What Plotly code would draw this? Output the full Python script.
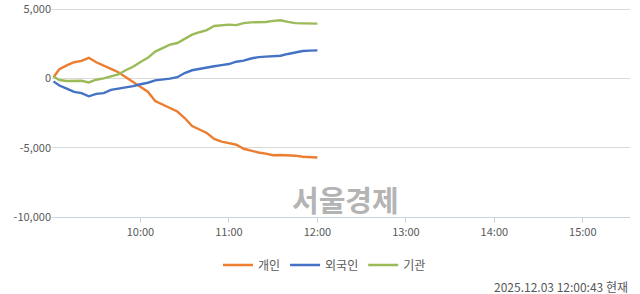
import plotly.graph_objects as go

# minutes after 09:00
minutes = [1, 5, 10, 15, 20, 25, 30, 35, 40, 45, 50, 55, 60, 65, 70, 75, 80, 85, 90,
           95, 100, 105, 110, 115, 120, 125, 130, 135, 140, 145, 150, 155, 160, 165,
           170, 175, 180]

individual = [100, 680, 950, 1180, 1280, 1500, 1180, 960, 700, 460, 100, -230, -600,
              -950, -1620, -1880, -2100, -2380, -2850, -3430, -3680, -3930, -4360,
              -4560, -4660, -4780, -5070, -5230, -5340, -5420, -5540, -5520, -5530,
              -5570, -5650, -5690, -5700]

foreign = [-200, -500, -720, -960, -1050, -1280, -1100, -1050, -820, -740, -640, -540,
           -410, -300, -130, -80, 0, 100, 400, 600, 710, 780, 890, 970, 1050, 1220,
           1300, 1450, 1550, 1590, 1630, 1650, 1780, 1900, 1990, 2020, 2040]

institution = [150, -100, -170, -160, -160, -280, -80, 20, 170, 310, 600, 850, 1200,
               1500, 1950, 2180, 2450, 2570, 2850, 3170, 3350, 3500, 3800, 3870, 3900,
               3860, 4010, 4060, 4070, 4090, 4170, 4210, 4100, 4010, 3990, 3990, 3970]

series_names = ["개인", "외국인", "기관"]
series_colors = ["#ED7D31", "#4472C4", "#9BBB59"]

y_tickvals = [5000, 0, -5000, -10000]
y_ticktext = ["5,000", "0", "-5,000", "-10,000"]

x_ticks = ["10:00", "11:00", "12:00", "13:00", "14:00", "15:00"]


def to_time(m):
    h = 9 + m // 60
    mm = m % 60
    return f"2025-12-03 {h:02d}:{mm:02d}:00"


times = [to_time(m) for m in minutes]

fig = go.Figure()
for name, vals, col in zip(series_names, [individual, foreign, institution], series_colors):
    fig.add_trace(go.Scatter(x=times, y=vals, name=name, mode="lines",
                             line=dict(color=col, width=2.4)))

font_family = "Noto Sans CJK KR, Malgun Gothic, sans-serif"

fig.update_layout(
    width=640, height=294,
    margin=dict(l=52, r=10, t=8, b=77, autoexpand=False),
    paper_bgcolor="white", plot_bgcolor="white",
    font=dict(family=font_family, size=11, color="#595959"),
    showlegend=True,
    legend=dict(orientation="h", xref="container", yref="container",
                x=0.507, xanchor="center", y=0.0985, yanchor="middle",
                font=dict(size=12, color="#595959"), itemwidth=30,
                traceorder="normal"),
)

fig.update_xaxes(
    type="date", automargin=False,
    range=["2025-12-03 09:00:00", "2025-12-03 15:32:00"],
    tickvals=[f"2025-12-03 {t}:00" for t in x_ticks],
    ticktext=x_ticks,
    showgrid=False, zeroline=False,
    showline=True, linecolor="#C9D3E3", linewidth=1,
    ticks="outside", ticklen=5, tickcolor="#C9D3E3",
    tickfont=dict(size=11, color="#595959"),
)

fig.update_yaxes(
    automargin=False,
    range=[-10000, 5100],
    tickvals=y_tickvals, ticktext=y_ticktext,
    showgrid=True, gridcolor="#D9D9D9", gridwidth=1,
    zeroline=True, zerolinecolor="#D9D9D9", zerolinewidth=1,
    showline=False, ticks="",
    tickfont=dict(size=11, color="#595959"),
)

fig.add_annotation(text="서울경제", xref="paper", yref="paper",
                   x=(345 - 52) / 578, y=(217 - 199) / 209, xanchor="center", yanchor="middle",
                   showarrow=False,
                   font=dict(family=font_family, size=29, color="#B4B4B4", weight="bold"))

fig.add_annotation(text="2025.12.03 12:00:43 현재", xref="paper", yref="paper",
                   x=1, y=-(286 - 217) / 209, xanchor="right", yanchor="middle",
                   showarrow=False, font=dict(size=12, color="#595959"))

fig.write_html("out.html")
